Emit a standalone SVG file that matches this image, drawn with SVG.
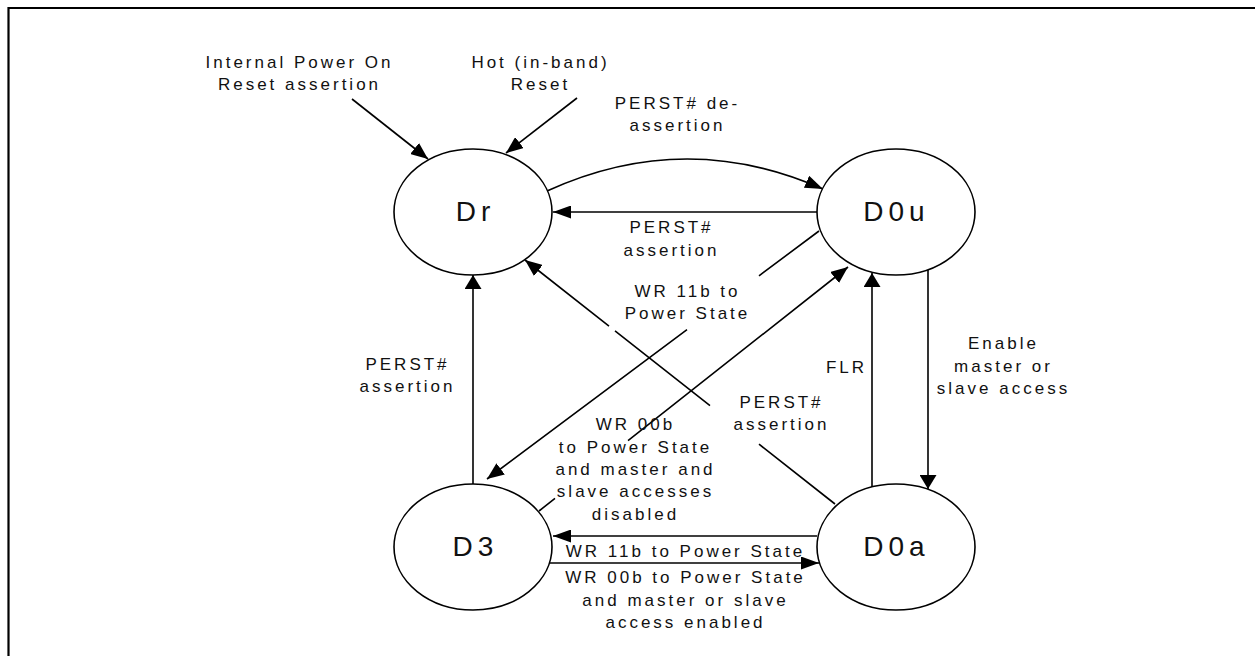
<svg xmlns="http://www.w3.org/2000/svg" width="1255" height="656" viewBox="0 0 1255 656">
<style>
.frame{fill:none;stroke:#000;stroke-width:2.2}
.node{fill:#fff;stroke:#000;stroke-width:1.6}
.edge{fill:none;stroke:#000;stroke-width:1.6}
.nl{font-family:"Liberation Sans",Arial,sans-serif;font-size:28px;letter-spacing:5px;text-anchor:middle;fill:#111}
.lbl{font-family:"Liberation Sans",Arial,sans-serif;font-size:17px;letter-spacing:3px;text-anchor:middle;fill:#111}
</style>
<defs>
<marker id="ah" markerUnits="userSpaceOnUse" viewBox="0 0 18 13" refX="18" refY="6.5" markerWidth="18" markerHeight="13" orient="auto"><path d="M0,0 L18,6.5 L0,13 z" fill="#000"/></marker>
<marker id="av" markerUnits="userSpaceOnUse" viewBox="0 0 14 17" refX="14" refY="8.5" markerWidth="14" markerHeight="17" orient="auto"><path d="M0,0 L14,8.5 L0,17 z" fill="#000"/></marker>
<marker id="ad" markerUnits="userSpaceOnUse" viewBox="0 0 17 14" refX="17" refY="7" markerWidth="17" markerHeight="14" orient="auto"><path d="M0,0 L17,7 L0,14 z" fill="#000"/></marker>
</defs>
<path class="frame" d="M8.5,656 V8 H1255"/>
<g id="connectors">
<path class="edge" d="M352,99 L428,159" marker-end="url(#ad)"/>
<path class="edge" d="M577,98 L506,153" marker-end="url(#ad)"/>
<path class="edge" d="M547,191 Q685,128 823,189" marker-end="url(#ah)"/>
<path class="edge" d="M817,212 L553,212" marker-end="url(#ah)"/>
<path class="edge" d="M819,231 L759,275.8 M687,329.6 L487,479" marker-end="url(#ad)"/>
<path class="edge" d="M539,511 L555,498.4 M628,440.7 L848,267" marker-end="url(#ad)"/>
<path class="edge" d="M835,504 L759,444.2 M710,405.6 L615,330.8 M609,326.1 L525,260" marker-end="url(#ad)"/>
<path class="edge" d="M473,484 L473,275" marker-end="url(#av)"/>
<path class="edge" d="M872,487 L872,273" marker-end="url(#av)"/>
<path class="edge" d="M928,270 L928,489" marker-end="url(#av)"/>
<path class="edge" d="M817,536 L553,536" marker-end="url(#ah)"/>
<path class="edge" d="M550,563 L819,563" marker-end="url(#ah)"/>
</g>
<g id="labels">
<text class="lbl" x="299.5" y="68">Internal Power On</text>
<text class="lbl" x="299.5" y="90">Reset assertion</text>
<text class="lbl" x="540.5" y="68">Hot (in-band)</text>
<text class="lbl" x="540.5" y="90">Reset</text>
<text class="lbl" x="677.5" y="109">PERST# de-</text>
<text class="lbl" x="677.5" y="131">assertion</text>
<text class="lbl" x="671.5" y="233">PERST#</text>
<text class="lbl" x="671.5" y="256">assertion</text>
<text class="lbl" x="687.5" y="297">WR 11b to</text>
<text class="lbl" x="687.5" y="319">Power State</text>
<text class="lbl" x="407.5" y="370">PERST#</text>
<text class="lbl" x="407.5" y="392">assertion</text>
<text class="lbl" x="781.5" y="408">PERST#</text>
<text class="lbl" x="781.5" y="430">assertion</text>
<text class="lbl" x="635.5" y="430">WR 00b</text>
<text class="lbl" x="635.5" y="453">to Power State</text>
<text class="lbl" x="635.5" y="475">and master and</text>
<text class="lbl" x="635.5" y="497">slave accesses</text>
<text class="lbl" x="635.5" y="520">disabled</text>
<text class="lbl" x="685.5" y="557">WR 11b to Power State</text>
<text class="lbl" x="685.5" y="583">WR 00b to Power State</text>
<text class="lbl" x="685.5" y="606">and master or slave</text>
<text class="lbl" x="685.5" y="628">access enabled</text>
<text class="lbl" x="846.5" y="373">FLR</text>
<text class="lbl" x="1003.5" y="349">Enable</text>
<text class="lbl" x="1003.5" y="372">master or</text>
<text class="lbl" x="1003.5" y="394">slave access</text>
</g>
<g id="Dr"><ellipse class="node" cx="473" cy="212" rx="79" ry="63"/><text class="nl" x="475.5" y="221">Dr</text></g>
<g id="D0u"><ellipse class="node" cx="896" cy="212" rx="79" ry="63"/><text class="nl" x="896.5" y="221">D0u</text></g>
<g id="D3"><ellipse class="node" cx="473" cy="547" rx="79" ry="63"/><text class="nl" x="475.5" y="556">D3</text></g>
<g id="D0a"><ellipse class="node" cx="896" cy="547" rx="79" ry="63"/><text class="nl" x="896.5" y="556">D0a</text></g>
</svg>
